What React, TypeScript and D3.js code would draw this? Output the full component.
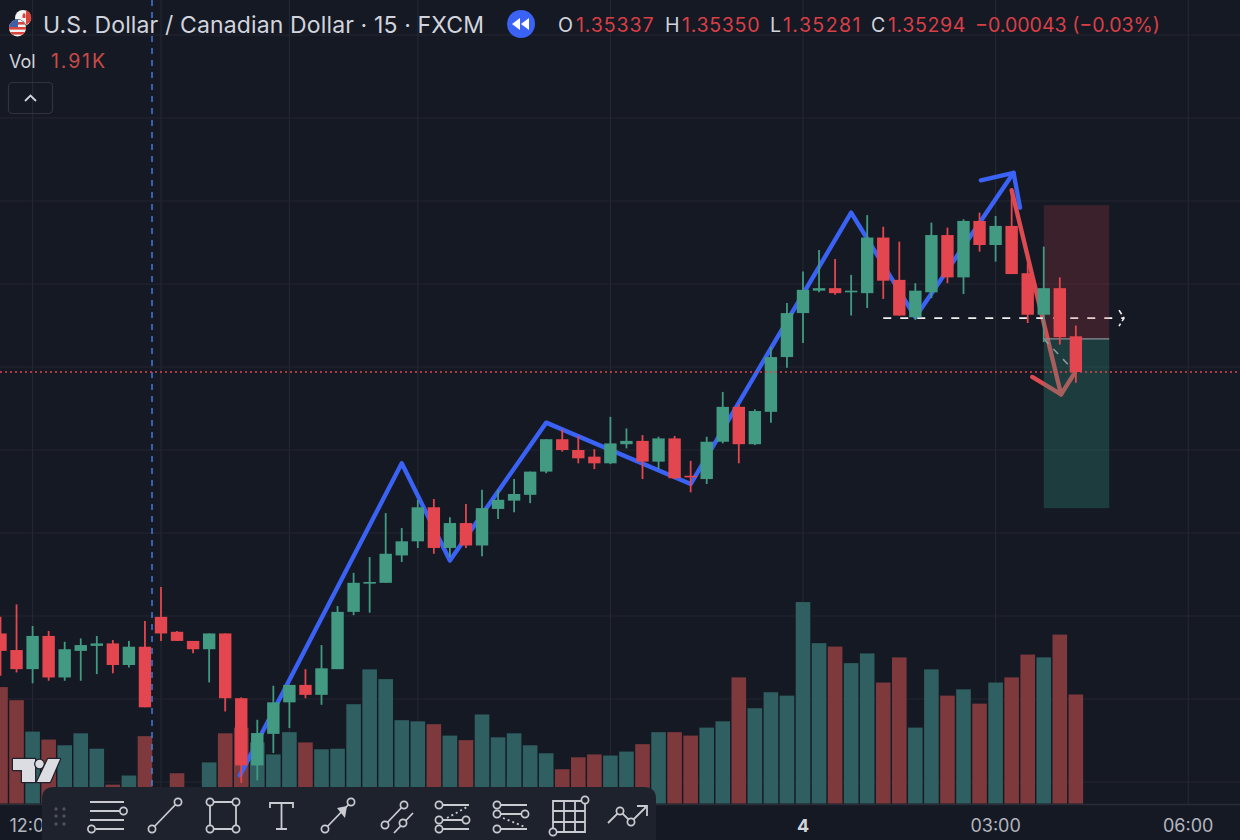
import React from "react";
import * as d3 from "d3";

// Bars are 15-minute candles; `hoursFromMidnight` is relative to the "4" tick.
const opens = [134979,134959,134936,134976,134926,134958,134964,134967,134941,134963,134999,134981,134970,134960,134979,134901,134820,134858,134896,134917,134905,134936,135005,135039,135040,135073,135090,135131,135082,135112,135085,135129,135139,135146,135174,135213,135200,135192,135184,135207,135211,135186,135214,135169,135165,135210,135252,135207,135246,135312,135365,135392,135395,135390,135389,135456,135405,135360,135390,135459,135408,135476,135447,135470,135413,135363,135395,135337];
const highs = [134999,135014,134988,134982,134969,134973,134976,134971,134970,134994,135035,134982,134970,134979,134979,134902,134875,134916,134917,134936,134965,135012,135052,135071,135124,135106,135140,135141,135119,135135,135152,135152,135165,135174,135213,135225,135217,135201,135240,135226,135218,135216,135217,135187,135216,135270,135255,135249,135324,135377,135415,135441,135430,135411,135483,135469,135451,135401,135474,135468,135478,135486,135482,135511,135425,135445,135408,135350];
const lows = [134928,134932,134919,134922,134922,134922,134930,134931,134938,134890,134970,134970,134955,134920,134885,134799,134802,134835,134865,134901,134893,134936,135001,135004,135040,135065,135082,135075,135071,135082,135072,135117,135125,135136,135172,135198,135184,135177,135183,135202,135165,135177,135165,135149,135159,135208,135184,135206,135233,135299,135329,135390,135387,135362,135371,135382,135362,135357,135383,135401,135388,135439,135427,135412,135353,135330,135327,135281];
const closes = [134958,134936,134976,134926,134960,134965,134967,134941,134963,134890,134979,134970,134960,134979,134901,134820,134859,134896,134917,134905,134937,135005,135040,135041,135075,135090,135131,135082,135112,135085,135130,135140,135147,135174,135213,135200,135190,135184,135208,135211,135186,135214,135166,135167,135210,135252,135207,135247,135312,135365,135393,135395,135389,135392,135456,135404,135362,135392,135459,135408,135476,135447,135470,135412,135363,135395,135336,135294];
const volumesK = [2.04,1.81,1.26,1.12,1.02,1.23,0.96,0.33,0.49,1.18,0.2,0.53,0.2,0.72,1.23,1.33,1.07,0.86,1.25,1.07,0.95,0.96,1.74,2.35,2.18,1.46,1.44,1.39,1.19,1.11,1.56,1.16,1.23,1.02,0.88,0.6,0.81,0.86,0.84,0.91,1.04,1.25,1.25,1.19,1.33,1.44,2.21,1.67,1.95,1.89,3.53,2.81,2.75,2.46,2.63,2.12,2.56,1.33,2.35,1.89,2.0,1.75,2.12,2.21,2.61,2.56,2.96,1.91];

const gridHours = [-12, -10, -8, -6, -3, 0, 3, 6];
const gridPrices = [135500,135400,135300,135200,135100,135000,134900,134800,135600,135700];
const timeTicks = [{ h: -12, label: "12:00" }, { h: 0, label: "4", bold: true }, { h: 3, label: "03:00" }, { h: 6, label: "06:00" }];

const blueTrend: [number, number][] = [[-8.77,134808],[-6.25,135184],[-5.5,135067],[-4,135233],[-1.75,135159],[0.75,135486],[1.75,135360],[3.28,135534]];
const blueHead: [number, number][] = [[2.77,135525],[3.28,135534],[3.38,135492]];
const redTrend: [number, number][] = [[3.25,135513],[4.02,135267]];
const redHead: [number, number][] = [[3.57,135288],[4.02,135267],[4.24,135294]];
const entryLine: [number, number][] = [[1.25,135359],[5.0,135359]];
const positionBox = { t0: 3.75, t1: 4.77, stop: 135495, entry: 135334, target: 135130 };
const lastClose = 135294;
const verticalMarkerHour = -10.14;

const x = d3.scaleLinear().domain([0, 3]).range([803, 995.6]);
const y = d3.scaleLinear().domain([135294, 135394]).range([372, 289]);
const yVol = d3.scaleLinear().domain([0, 1.91]).range([803.5, 694.5]);
const barHour = (i: number) => (i - 50) * 0.25;

const lineGen = d3.line<[number, number]>().x((d) => x(d[0])).y((d) => y(d[1]));

const BG = "#151924";
const TOOLBAR = "#1e222d";
const UP = "#429a82";
const DOWN = "#e3464e";
const UP_VOL = "#2f5f60";
const DOWN_VOL = "#7e393d";
const GRID = "#24272f";
const BLUE = "#3a62f5";
const ARROW_RED = "#dc4b52";
const ICON = "#c9cbd1";
const FONT = "Inter, Roboto, sans-serif";

const Dot = ({ cx, cy }: { cx: number; cy: number }) => (
  <circle cx={cx} cy={cy} r={3.6} fill={TOOLBAR} stroke={ICON} strokeWidth={1.7} />
);
const Seg = ({ d, dash }: { d: string; dash?: string }) => (
  <path d={d} fill="none" stroke={ICON} strokeWidth={1.8} strokeDasharray={dash} />
);

function Toolbar() {
  const grip = [[56, 809], [64, 809], [56, 816], [64, 816], [56, 824], [64, 824]];
  return (
    <g>
      <path d="M54,787 H644 Q656,787 656,799 V840 H42 V799 Q42,787 54,787 Z" fill={TOOLBAR} />
      {grip.map(([a, b], i) => <circle key={i} cx={a} cy={b} r={1.7} fill="#4e515c" />)}
      <Seg d="M90,802H124M90,811H120M90,820H124M96,829H124" />
      <Dot cx={123.5} cy={811} /><Dot cx={91.5} cy={829} />
      <Seg d="M152,829L178,802" /><Dot cx={152} cy={829} /><Dot cx={178} cy={802} />
      <Seg d="M210,802H236V829H210Z" />
      <Dot cx={210} cy={802} /><Dot cx={236} cy={802} /><Dot cx={210} cy={829} /><Dot cx={236} cy={829} />
      <Seg d="M270,808V803H293V808M281.5,803V829M276,829H287" />
      <Seg d="M325,829L351,802" />
      <path d="M337,808L347,806L345,818Z" fill={ICON} />
      <Dot cx={325} cy={829} /><Dot cx={351} cy={802} />
      <Seg d="M385,825L404,805M394,833L413,813" />
      <Dot cx={385} cy={825} /><Dot cx={404} cy={805} /><Dot cx={403} cy={823} />
      <Seg d="M439,805H469M439,820H466M439,829H469" />
      <Seg d="M447,818L467,807" dash="2 3" />
      <Dot cx={439} cy={805} /><Dot cx={439} cy={820} /><Dot cx={466} cy={820} /><Dot cx={439} cy={829} />
      <Seg d="M497,805H527M497,814H525M497,829H527" />
      <Seg d="M503,818L525,827" dash="2 3" />
      <Dot cx={497} cy={805} /><Dot cx={497} cy={814} /><Dot cx={525} cy={814} /><Dot cx={497} cy={829} />
      <Seg d="M553,801H585V832H553ZM553,811H585M553,822H585M564,801V832M575,801V832" />
      <Dot cx={585} cy={800} /><Dot cx={553} cy={832} />
      <Seg d="M608,823L620,811L631,822L646,807M637,806H647V816" />
      <Dot cx={620} cy={811} /><Dot cx={631} cy={822} />
    </g>
  );
}

function Logo() {
  return (
    <g fill="#dcdde2" stroke="#20222b" strokeWidth={2.5} paintOrder="stroke" strokeLinejoin="round">
      <path d="M13,759H35V782H22V770H13Z" />
      <circle cx={39.5} cy={764} r={4.2} />
      <path d="M48,759H60L50,782H37Z" />
    </g>
  );
}

function Flags() {
  return (
    <g>
      <circle cx={23} cy={18} r={8} fill="#f4f4f4" />
      <path d="M26,10A8,8 0 0 1 30,22L26,25Z" fill="#d8453c" />
      <path d="M22.5,15l1.5,-2.5l1.5,2.5v3h-3z" fill="#d8453c" />
      <circle cx={17.5} cy={28} r={9} fill={BG} />
      <clipPath id="us"><circle cx={17.5} cy={28} r={8.5} /></clipPath>
      <g clipPath="url(#us)">
        <rect x={9} y={19} width={18} height={18} fill="#f1f1f1" />
        <rect x={9} y={22} width={18} height={2.6} fill="#d8453c" />
        <rect x={9} y={27} width={18} height={2.6} fill="#d8453c" />
        <rect x={9} y={32} width={18} height={2.6} fill="#d8453c" />
        <rect x={9} y={19} width={9} height={8} fill="#3f5fa8" />
      </g>
    </g>
  );
}

function Header() {
  const red = "#d93f47";
  const label = "#d1d4dc";
  const ohlc = [
    { k: "O", kx: 558, v: "1.35337", vx: 576 },
    { k: "H", kx: 665, v: "1.35350", vx: 682 },
    { k: "L", kx: 770, v: "1.35281", vx: 783 },
    { k: "C", kx: 871, v: "1.35294", vx: 888 },
  ];
  return (
    <g fontFamily={FONT}>
      <Flags />
      <text x={43} y={33} fontSize={23} textLength={441} lengthAdjust="spacing" fill={label}>U.S. Dollar / Canadian Dollar · 15 · FXCM</text>
      <circle cx={521} cy={24} r={14} fill={BLUE} />
      <path d="M520,18v12l-8,-6ZM529,18v12l-8,-6Z" fill="#fff" />
      {ohlc.map((o) => (
        <g key={o.k} fontSize={19.6}>
          <text x={o.kx} y={32} fill={label}>{o.k}</text>
          <text x={o.vx} y={32} fill={red} textLength={77.5} lengthAdjust="spacing">{o.v}</text>
        </g>
      ))}
      <text x={975} y={32} fontSize={19.6} textLength={185} lengthAdjust="spacing" fill={red}>−0.00043 (−0.03%)</text>
      <text x={9} y={68} fontSize={18} fill={label}>Vol</text>
      <text x={51} y={68} fontSize={19.5} textLength={54} lengthAdjust="spacing" fill="#c84a48">1.91K</text>
      <rect x={8.5} y={82.5} width={44} height={31} rx={4} fill="none" stroke="#30333d" strokeWidth={1.2} />
      <path d="M25,101L30.5,95.5L36,101" fill="none" stroke={label} strokeWidth={1.8} />
    </g>
  );
}

export default function App() {
  const bw = 12.4;
  const vw = 14.6;
  return (
    <svg width={1240} height={840} viewBox="0 0 1240 840" style={{ position: "fixed", left: 0, top: 0, display: "block" }}>
      <rect width={1240} height={840} fill={BG} />

      {gridHours.map((h) => <line key={h} x1={x(h)} x2={x(h)} y1={0} y2={804} stroke={GRID} strokeWidth={1.2} />)}
      {gridPrices.map((p) => <line key={p} x1={0} x2={1240} y1={y(p)} y2={y(p)} stroke={GRID} strokeWidth={1.2} />)}
      <line x1={0} x2={1240} y1={804.5} y2={804.5} stroke="#2a2d36" strokeWidth={1.5} />

      {volumesK.map((v, i) => (
        <rect key={i} x={x(barHour(i)) - vw / 2} width={vw} y={yVol(v)} height={yVol(0) - yVol(v)}
          fill={closes[i] >= opens[i] ? UP_VOL : DOWN_VOL} />
      ))}

      <line x1={x(verticalMarkerHour)} x2={x(verticalMarkerHour)} y1={0} y2={787} stroke="#4a7fe8" strokeWidth={1.4} strokeDasharray="6 6" />

      {/* drawings below the position box */}
      <g fill="none" strokeLinecap="round" strokeLinejoin="round">
        <path d={lineGen(blueTrend) as string} stroke={BLUE} strokeWidth={4.4} />
        <path d={lineGen(blueHead) as string} stroke={BLUE} strokeWidth={4.4} />
        <path d={lineGen(redTrend) as string} stroke={ARROW_RED} strokeWidth={4.4} />
        <path d={lineGen(redHead) as string} stroke={ARROW_RED} strokeWidth={4.4} />
      </g>
      <path d={lineGen(entryLine) as string} fill="none" stroke="#f0f0f0" strokeWidth={1.8} strokeDasharray="8 9" />
      <path d={`M${x(5.0) - 5},${y(135359) - 8}L${x(5.0)},${y(135359)}L${x(5.0) - 5},${y(135359) + 8}`} fill="none" stroke="#f0f0f0" strokeWidth={1.6} strokeDasharray="5 3" />

      {/* position box */}
      <rect x={x(positionBox.t0)} width={x(positionBox.t1) - x(positionBox.t0)} y={y(positionBox.stop)} height={y(positionBox.entry) - y(positionBox.stop)} fill="#d9434b" fillOpacity={0.2} />
      <rect x={x(positionBox.t0)} width={x(positionBox.t1) - x(positionBox.t0)} y={y(positionBox.entry)} height={y(positionBox.target) - y(positionBox.entry)} fill="#2f8f7c" fillOpacity={0.3} />
      <line x1={x(positionBox.t0)} x2={x(positionBox.t1)} y1={y(positionBox.entry)} y2={y(positionBox.entry)} stroke="#8a8f96" strokeWidth={1.2} />
      <line x1={x(positionBox.t0)} x2={x(4.24)} y1={y(positionBox.entry)} y2={y(lastClose)} stroke="#8d9aa0" strokeWidth={1.5} strokeDasharray="7 7" />

      {/* candles */}
      {opens.map((o, i) => {
        const c = closes[i];
        const col = c >= o ? UP : DOWN;
        const cx = x(barHour(i));
        const top = y(Math.max(o, c));
        const bot = y(Math.min(o, c));
        return (
          <g key={i}>
            <line x1={cx} x2={cx} y1={y(highs[i])} y2={y(lows[i])} stroke={col} strokeWidth={1.8} />
            <rect x={cx - bw / 2} width={bw} y={top} height={Math.max(bot - top, 1.5)} fill={col} />
          </g>
        );
      })}

      <line x1={0} x2={1240} y1={y(lastClose)} y2={y(lastClose)} stroke="#e0444c" strokeWidth={1.6} strokeDasharray="2 3" />

      <Header />

      {timeTicks.map((t) => (
        <text key={t.h} x={x(t.h)} y={832} textAnchor="middle" fontFamily={FONT} fontSize={18}
          fontWeight={t.bold ? 700 : 400} fill={t.bold ? "#d1d4dc" : "#b2b5be"}>{t.label}</text>
      ))}

      <Logo />
      <Toolbar />
    </svg>
  );
}
